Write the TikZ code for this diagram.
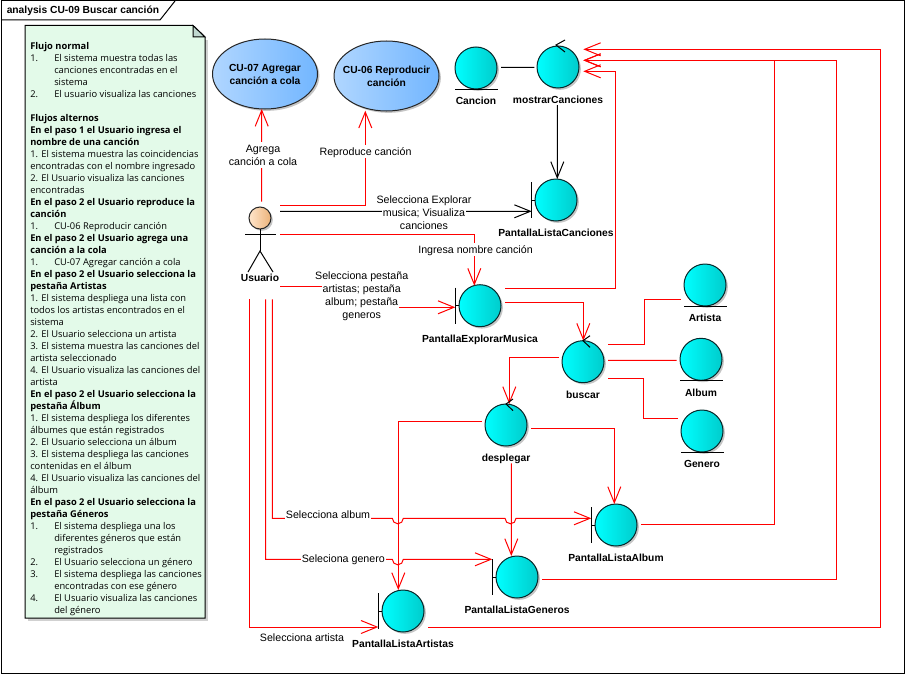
\documentclass[tikz,border=0pt]{standalone}
\usepackage{fontspec}
\setmainfont{Liberation Sans}
\newfontfamily\notafont{Open Sans}
\usetikzlibrary{arrows.meta}
\usetikzlibrary{calc}
\usetikzlibrary{shadows}
\usetikzlibrary{shapes.geometric}
\definecolor{rojo}{HTML}{FF0000}
\definecolor{notaverde}{HTML}{E3FAE9}
\definecolor{pliegue}{HTML}{C0D8D0}
\definecolor{borde}{HTML}{06282A}
\definecolor{cuclaro}{HTML}{B0D6FF}
\definecolor{cuoscuro}{HTML}{72B6FF}
\newcommand{\nitem}[2]{\makebox[18pt][l]{#1}#2}
\newcommand{\ncont}[1]{\hspace*{18pt}#1}
\newcommand{\cutxt}[1]{\makebox[0pt][c]{#1}}
\newcommand{\fondo}[1]{\setlength{\fboxsep}{0pt}\colorbox{white}{\rule[-.2\baselineskip]{0pt}{\baselineskip}\hspace{.75pt}#1\hspace{.75pt}}}
\tikzset{
>={Straight Barb[length=12pt,width=9.75pt]},
sombra/.style={drop shadow={shadow xshift=1.4pt,shadow yshift=-1.4pt,fill=black!45,opacity=.5}},
lin/.style={line width=.75pt},
roja/.style={lin,draw=rojo},
negra/.style={lin,draw=black},
etq/.style={font=\fontsize{8}{9.75}\selectfont,align=center,inner sep=0pt},
nom/.style={font=\bfseries\fontsize{7.7}{9.75}\selectfont,inner sep=0pt,text height=6.6pt,text depth=2.4pt},
bola/.style={shape=circle,minimum size=31.5pt,inner sep=0pt,outer sep=0pt,lin,draw=borde,left color=cyan,right color=cyan!80!black,sombra,label={[nom,label distance=5pt]below:#1}},
cu/.style={shape=ellipse,minimum width=78.75pt,minimum height=52.5pt,inner sep=0pt,outer sep=0pt,lin,draw=black!85,left color=cuclaro,right color=cuoscuro,sombra,align=center,font=\bfseries\fontsize{7.7}{9.75}\selectfont}
}
\begin{document}
\begin{tikzpicture}[x=.75pt,y=-.75pt]
    \useasboundingbox (0,0) rectangle (905,674);

    % marco
    \draw[negra,fill=white] (1,1) rectangle (904,673);
    \draw[negra] (1,20) -- (160,20) -- (175,1);
    \node[anchor=west,inner sep=0pt,font=\bfseries\fontsize{7.7}{9}\selectfont] (titulo) at (6.5,11) {analysis CU-09 Buscar canción};

    % nota
    \fill[black!18] (28,40) -- (208,40) -- (208,621) -- (28,621) -- cycle;
    \draw[negra,fill=notaverde] (25,25.5) -- (193,25.5) -- (205,37) -- (205,618) -- (25,618) -- cycle;
    \draw[negra,fill=pliegue] (193,25.5) -- (205,37) -- (193,37) -- cycle;
    \node[anchor=north west,inner sep=0pt,align=left,font=\notafont\fontsize{7}{9}\selectfont] (nota) at (30,42.3) {%
        \textbf{Flujo normal}\\
        \nitem{1.}{El sistema muestra todas las}\\
        \ncont{canciones encontradas en el}\\
        \ncont{sistema}\\
        \nitem{2.}{El usuario visualiza las canciones}\\
        ~\\
        \textbf{Flujos alternos}\\
        \textbf{En el paso 1 el Usuario ingresa el}\\
        \textbf{nombre de una canción}\\
        1. El sistema muestra las coincidencias\\
        encontradas con el nombre ingresado\\
        2. El Usuario visualiza las canciones\\
        encontradas\\
        \textbf{En el paso 2 el Usuario reproduce la}\\
        \textbf{canción}\\
        \nitem{1.}{CU-06 Reproducir canción}\\
        \textbf{En el paso 2 el Usuario agrega una}\\
        \textbf{canción a la cola}\\
        \nitem{1.}{CU-07 Agregar canción a cola}\\
        \textbf{En el paso 2 el Usuario selecciona la}\\
        \textbf{pestaña Artistas}\\
        1. El sistema despliega una lista con\\
        todos los artistas encontrados en el\\
        sistema\\
        2. El Usuario selecciona un artista\\
        3. El sistema muestra las canciones del\\
        artista seleccionado\\
        4. El Usuario visualiza las canciones del\\
        artista\\
        \textbf{En el paso 2 el Usuario selecciona la}\\
        \textbf{pestaña Álbum}\\
        1. El sistema despliega los diferentes\\
        álbumes que están registrados\\
        2. El Usuario selecciona un álbum\\
        3. El sistema despliega las canciones\\
        contenidas en el álbum\\
        4. El Usuario visualiza las canciones del\\
        álbum\\
        \textbf{En el paso 2 el Usuario selecciona la}\\
        \textbf{pestaña Géneros}\\
        \nitem{1.}{El sistema despliega una los}\\
        \ncont{diferentes géneros que están}\\
        \ncont{registrados}\\
        \nitem{2.}{El Usuario selecciona un género}\\
        \nitem{3.}{El sistema despliega las canciones}\\
        \ncont{encontradas con ese género}\\
        \nitem{4.}{El Usuario visualiza las canciones}\\
        \ncont{del género}};

    % casos de uso
    \node[cu] (CU07) at (265,74) {\cutxt{CU-07 Agregar}\\\cutxt{canción a cola}};
    \node[cu] (CU06) at (386.5,76) {\cutxt{CU-06 Reproducir}\\\cutxt{canción}};

    % actor
    \node[minimum width=30pt,minimum height=73.2pt,inner sep=0pt,outer sep=0pt] (Usuario) at (260,250.5) {};
    \node[shape=circle,minimum size=16.5pt,inner sep=0pt,outer sep=0pt,lin,draw=black!85,left color=orange!20,right color=orange!50!brown!60,sombra] (cabeza) at (260,218) {};
    \draw[negra] (cabeza.south) -- ($(Usuario)+(0,.5)$);
    \draw[negra] ($(Usuario)+(-15,-16.5)$) -- ($(Usuario)+(16,-16.5)$);
    \draw[negra] ($(Usuario)+(-12,21.5)$) -- ($(Usuario)+(0,.5)$) -- ($(Usuario)+(13,21.5)$);
    \node[nom] (lUsuario) at (260,278.5) {Usuario};

    % clases
    \node[bola=Cancion] (Cancion) at (476,68) {};
    \node[bola=mostrarCanciones] (mostrar) at (558,67) {};
    \node[bola=PantallaListaCanciones] (PLC) at (556,200) {};
    \node[bola=PantallaExplorarMusica] (PEM) at (480,305.7) {};
    \node[bola=buscar] (buscar) at (583,361.7) {};
    \node[bola=Artista] (Artista) at (705,285) {};
    \node[bola=Album] (Album) at (701,359.3) {};
    \node[bola=Genero] (Genero) at (702,431) {};
    \node[bola=desplegar] (desplegar) at (506,425) {};
    \node[bola=PantallaListaAlbum] (PLAlb) at (616,525) {};
    \node[bola=PantallaListaGeneros] (PLG) at (517,577) {};
    \node[bola=PantallaListaArtistas] (PLArt) at (403,611) {};

    % conectores
    \draw[roja,->] ($(Usuario)+(1.7,-48.8)$) -- ($(CU07)+(-3.3,35)$);
    \draw[roja,->] ($(Usuario)+(20,-45.5)$) -| ($(CU06)+(-21.2,34.7)$);
    \draw[negra,->] ($(Usuario)+(20,-39.2)$) -- ($(PLC)+(-24.3,11.3)$);
    \draw[roja,->] ($(Usuario)+(20,-16.2)$) -| ($(PEM)+(-5.7,-20)$);
    \draw[roja,->] ($(Usuario)+(20,35.5)$) -- ++(81,0) |- ($(PEM)+(-24.7,1.6)$);
    \draw[roja,->] ($(Usuario)+(-10.3,48.8)$) |- ($(PLArt)+(-24.7,16)$);
    \draw[roja,->] ($(Usuario)+(5.7,48.8)$) |- ($(PLArt)+(-10.7,-51.7)$) arc[start angle=180,end angle=0,radius=5.5] -- ($(PLG)+(-24.7,-17.7)$);
    \draw[roja,->] ($(Usuario)+(12.3,48.8)$) |- ($(PLArt)+(-10.7,-92.7)$) arc[start angle=180,end angle=0,radius=5.5] -- ($(PLG)+(-12,-58.7)$) arc[start angle=180,end angle=0,radius=5.5] -- ($(PLAlb)+(-24.7,-6.7)$);

    \draw[negra] ($(Cancion)+(25,-.7)$) -- ($(mostrar)+(-23.7,.3)$);
    \draw[negra,->] ($(mostrar)+(-.7,38)$) -- ($(PLC)+(1.3,-21)$);
    \draw[roja,->] ($(PEM)+(25,-17.4)$) -- ++(110.3,0) |- ($(mostrar)+(25.3,4.3)$);
    \draw[roja,->] ($(PEM)+(25,-3.4)$) -| ($(buscar)+(.3,-21)$);
    \draw[roja] ($(buscar)+(25,-17.4)$) -- ++(36.3,0) |- ($(Artista)+(-24,14.3)$);
    \draw[roja] ($(buscar)+(25,-1.4)$) -- ($(Album)+(-24.3,1)$);
    \draw[roja] ($(buscar)+(25,16.6)$) -- ++(35.3,0) |- ($(Genero)+(-24.3,-12.7)$);
    \draw[roja,->] ($(buscar)+(-24,-4.4)$) -| ($(desplegar)+(3.3,-21)$);
    \draw[roja,->] ($(desplegar)+(25,3.3)$) -| ($(PLAlb)+(-1.7,-21)$);
    \draw[roja,->] ($(desplegar)+(5.3,38.3)$) -- ($(PLG)+(-5.7,-21)$);
    \draw[roja,->] ($(desplegar)+(-24.3,-3.7)$) -| ($(PLArt)+(-4.7,-21)$);
    \draw[roja,->] ($(PLAlb)+(25,-.7)$) -- ++(133.3,0) |- ($(mostrar)+(25.3,-6.7)$);
    \draw[roja,->] ($(PLG)+(25.3,2.3)$) -- ++(294,0) |- ($(mostrar)+(25.3,-6.7)$);
    \draw[roja,->] ($(PLArt)+(25.3,16)$) -- ++(452,0) |- ($(mostrar)+(25.3,-17.7)$);

    % entidades
    \draw[negra] ($(Cancion)+(-21,21.3)$) -- ($(Cancion)+(22,21.3)$);
    \draw[negra] ($(Artista)+(-21,21.3)$) -- ($(Artista)+(22,21.3)$);
    \draw[negra] ($(Album)+(-21,21.3)$) -- ($(Album)+(22,21.3)$);
    \draw[negra] ($(Genero)+(-21,21.3)$) -- ($(Genero)+(22,21.3)$);

    % interfaces
    \draw[negra] ($(PLC)+(-24.3,-18)$) -- ($(PLC)+(-24.3,18)$);
    \draw[negra] ($(PLC)+(-24.3,0)$) -- (PLC.west);
    \draw[negra] ($(PEM)+(-24.7,-18)$) -- ($(PEM)+(-24.7,18)$);
    \draw[negra] ($(PEM)+(-24.7,0)$) -- (PEM.west);
    \draw[negra] ($(PLAlb)+(-24.7,-18)$) -- ($(PLAlb)+(-24.7,18)$);
    \draw[negra] ($(PLAlb)+(-24.7,0)$) -- (PLAlb.west);
    \draw[negra] ($(PLG)+(-24.7,-18)$) -- ($(PLG)+(-24.7,18)$);
    \draw[negra] ($(PLG)+(-24.7,0)$) -- (PLG.west);
    \draw[negra] ($(PLArt)+(-24.7,-18)$) -- ($(PLArt)+(-24.7,18)$);
    \draw[negra] ($(PLArt)+(-24.7,0)$) -- (PLArt.west);

    % controles
    \draw[negra] ($(mostrar)+(7,-27)$) -- ($(mostrar)+(-2,-22)$) -- ($(mostrar)+(7,-15)$);
    \draw[negra] ($(buscar)+(7,-26)$) -- ($(buscar)+(0,-21)$) -- ($(buscar)+(7,-14.4)$);
    \draw[negra] ($(desplegar)+(7,-26)$) -- ($(desplegar)+(0,-21)$) -- ($(desplegar)+(7,-14.4)$);

    % etiquetas
    \node[etq] (lAgrega) at (263,155) {\fondo{Agrega}\\\fondo{canción a cola}};
    \node[etq] (lReproduce) at (365.5,151.3) {\fondo{Reproduce canción}};
    \node[etq] (lExplorar) at (424,212.8) {\fondo{Selecciona Explorar}\\\fondo{musica; Visualiza}\\\fondo{canciones}};
    \node[etq] (lIngresa) at (475.5,249.5) {\fondo{Ingresa nombre canción}};
    \node[etq] (lPestana) at (361.7,295.3) {\fondo{Selecciona pestaña}\\\fondo{artistas; pestaña}\\\fondo{album; pestaña}\\\fondo{generos}};
    \node[etq] (lAlbum) at (328,514.5) {\fondo{Selecciona album}};
    \node[etq] (lGenero) at (343.3,558.5) {\fondo{Seleciona genero}};
    \node[etq] (lArtista) at (302,637.5) {\fondo{Selecciona artista}};

\end{tikzpicture}
\end{document}
